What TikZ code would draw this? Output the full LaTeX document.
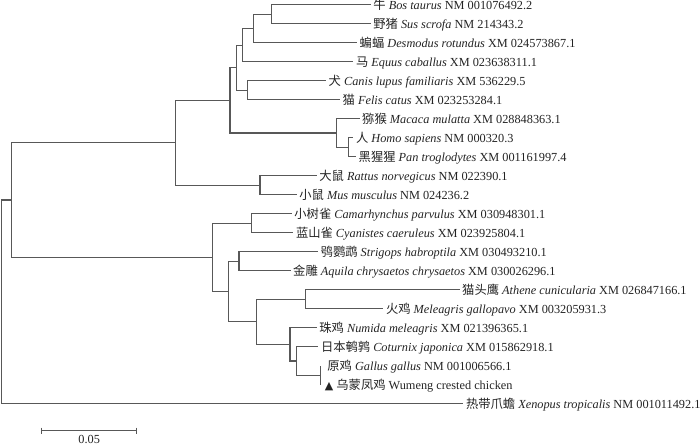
\documentclass[tikz,border=0pt]{standalone}
\usepackage{fontspec}
\setmainfont{Liberation Serif}
\newfontfamily\cjk{Noto Sans CJK SC}
\newfontfamily\symf{DejaVu Sans}
\newcommand{\lbl}[3]{{\cjk #1} \textit{#2} #3}
\definecolor{linegray}{RGB}{88,88,88}
\definecolor{textcol}{RGB}{35,35,35}
\begin{document}
\begin{tikzpicture}[x=1pt,y=-1pt,
  br/.style={draw=linegray, line width=1.2pt},
  lab/.style={anchor=base west, inner sep=0pt, xshift=2.5pt, yshift=-4.8pt,
    font=\fontsize{12.3}{14}\selectfont, text=textcol}]
\useasboundingbox (0,0) rectangle (700,445);
% leaf tips
\coordinate (l1) at (370.7,4.7);
\coordinate (l2) at (370.7,23.7);
\coordinate (l3) at (357,42.7);
\coordinate (l4) at (353.3,61.7);
\coordinate (l5) at (326,80.7);
\coordinate (l6) at (340,99.7);
\coordinate (l7) at (359.5,118.7);
\coordinate (l8) at (353.3,137.7);
\coordinate (l9) at (356,156.7);
\coordinate (l10) at (316.7,175.7);
\coordinate (l11) at (296.7,194.7);
\coordinate (l12) at (291.7,213.7);
\coordinate (l13) at (293.3,232.7);
\coordinate (l14) at (318,251.7);
\coordinate (l15) at (290.5,270.7);
\coordinate (l16) at (459.5,289.7);
\coordinate (l17) at (383.3,308.7);
\coordinate (l18) at (316.7,327.7);
\coordinate (l19) at (318.3,346.7);
\coordinate (l20) at (320.7,365.7);
\coordinate (l21) at (320.7,384.7);
\coordinate (l22) at (463.3,403.7);
% internal nodes
\coordinate (G) at (271.7,14.2);
\coordinate (F) at (253.3,28.45);
\coordinate (E) at (242.7,45.1);
\coordinate (CD) at (247.7,90.2);
\coordinate (D) at (236.7,67.65);
\coordinate (HC) at (348.3,147.2);
\coordinate (P) at (336.7,132.95);
\coordinate (B) at (230,100.3);
\coordinate (Rod) at (260,185.2);
\coordinate (M) at (175.7,142.75);
\coordinate (Pas) at (251.7,223.2);
\coordinate (PE) at (239,261.2);
\coordinate (OT) at (305.7,299.2);
\coordinate (K) at (320.7,375.2);
\coordinate (J) at (296.7,360.95);
\coordinate (Gal) at (290,344.3);
\coordinate (I) at (256.7,321.75);
\coordinate (H) at (228.3,291.5);
\coordinate (AV) at (212.3,257.35);
\coordinate (A) at (11.7,200.05);
\coordinate (R) at (1.5,301.9);
% branches
\draw[br] (G) |- (l1); \draw[br] (G) |- (l2);
\draw[br] (F) |- (G); \draw[br] (F) |- (l3);
\draw[br] (E) |- (F); \draw[br] (E) |- (l4);
\draw[br] (CD) |- (l5); \draw[br] (CD) |- (l6);
\draw[br] (D) |- (E); \draw[br] (D) |- (CD);
\draw[br] (HC) |- (l8); \draw[br] (HC) |- (l9);
\draw[br] (P) |- (l7); \draw[br] (P) |- (HC);
\draw[br] (B) |- (D); \draw[br] (B) |- (P);
\draw[br] (Rod) |- (l10); \draw[br] (Rod) |- (l11);
\draw[br] (M) |- (B); \draw[br] (M) |- (Rod);
\draw[br] (Pas) |- (l12); \draw[br] (Pas) |- (l13);
\draw[br] (PE) |- (l14); \draw[br] (PE) |- (l15);
\draw[br] (OT) |- (l16); \draw[br] (OT) |- (l17);
\draw[br] (K) |- (l20); \draw[br] (K) |- (l21);
\draw[br] (J) |- (l19); \draw[br] (J) |- (K);
\draw[br] (Gal) |- (l18); \draw[br] (Gal) |- (J);
\draw[br] (I) |- (OT); \draw[br] (I) |- (Gal);
\draw[br] (H) |- (PE); \draw[br] (H) |- (I);
\draw[br] (AV) |- (Pas); \draw[br] (AV) |- (H);
\draw[br] (A) |- (M); \draw[br] (A) |- (AV);
\draw[br] (R) |- (A); \draw[br] (R) |- (l22);
% labels
\node[lab] (t1) at (l1) {\lbl{牛}{Bos taurus}{NM 001076492.2}};
\node[lab] (t2) at (l2) {\lbl{野猪}{Sus scrofa}{NM 214343.2}};
\node[lab] (t3) at (l3) {\lbl{蝙蝠}{Desmodus rotundus}{XM 024573867.1}};
\node[lab] (t4) at (l4) {\lbl{马}{Equus caballus}{XM 023638311.1}};
\node[lab] (t5) at (l5) {\lbl{犬}{Canis lupus familiaris}{XM 536229.5}};
\node[lab] (t6) at (l6) {\lbl{猫}{Felis catus}{XM 023253284.1}};
\node[lab] (t7) at (l7) {\lbl{猕猴}{Macaca mulatta}{XM 028848363.1}};
\node[lab] (t8) at (l8) {\lbl{人}{Homo sapiens}{NM 000320.3}};
\node[lab] (t9) at (l9) {\lbl{黑猩猩}{Pan troglodytes}{XM 001161997.4}};
\node[lab] (t10) at (l10) {\lbl{大鼠}{Rattus norvegicus}{NM 022390.1}};
\node[lab] (t11) at (l11) {\lbl{小鼠}{Mus musculus}{NM 024236.2}};
\node[lab] (t12) at (l12) {\lbl{小树雀}{Camarhynchus parvulus}{XM 030948301.1}};
\node[lab] (t13) at (l13) {\lbl{蓝山雀}{Cyanistes caeruleus}{XM 023925804.1}};
\node[lab] (t14) at (l14) {\lbl{鸮鹦鹉}{Strigops habroptila}{XM 030493210.1}};
\node[lab] (t15) at (l15) {\lbl{金雕}{Aquila chrysaetos chrysaetos}{XM 030026296.1}};
\node[lab] (t16) at (l16) {\lbl{猫头鹰}{Athene cunicularia}{XM 026847166.1}};
\node[lab] (t17) at (l17) {\lbl{火鸡}{Meleagris gallopavo}{XM 003205931.3}};
\node[lab] (t18) at (l18) {\lbl{珠鸡}{Numida meleagris}{XM 021396365.1}};
\node[lab] (t19) at (l19) {\lbl{日本鹌鹑}{Coturnix japonica}{XM 015862918.1}};
\node[lab, xshift=4pt] (t20) at (l20) {\lbl{原鸡}{Gallus gallus}{NM 001006566.1}};
\node[lab, xshift=1.5pt] (t21) at (l21) {{\symf\fontsize{11}{12}\selectfont ▲} {\cjk 乌蒙凤鸡} Wumeng crested chicken};
\node[lab] (t22) at (l22) {\lbl{热带爪蟾}{Xenopus tropicalis}{NM 001011492.1}};
% scale bar
\coordinate (s1) at (41.7,430.5);
\coordinate (s2) at (136.7,430.5);
\draw[br] (s1) -- (s2);
\draw[br] ([yshift=3pt]s1) -- ([yshift=-3pt]s1);
\draw[br] ([yshift=3pt]s2) -- ([yshift=-3pt]s2);
\node[anchor=base, inner sep=0pt, font=\fontsize{12.3}{14}\selectfont, text=textcol] (sl) at (89.2,443.5) {0.05};
\end{tikzpicture}
\end{document}
